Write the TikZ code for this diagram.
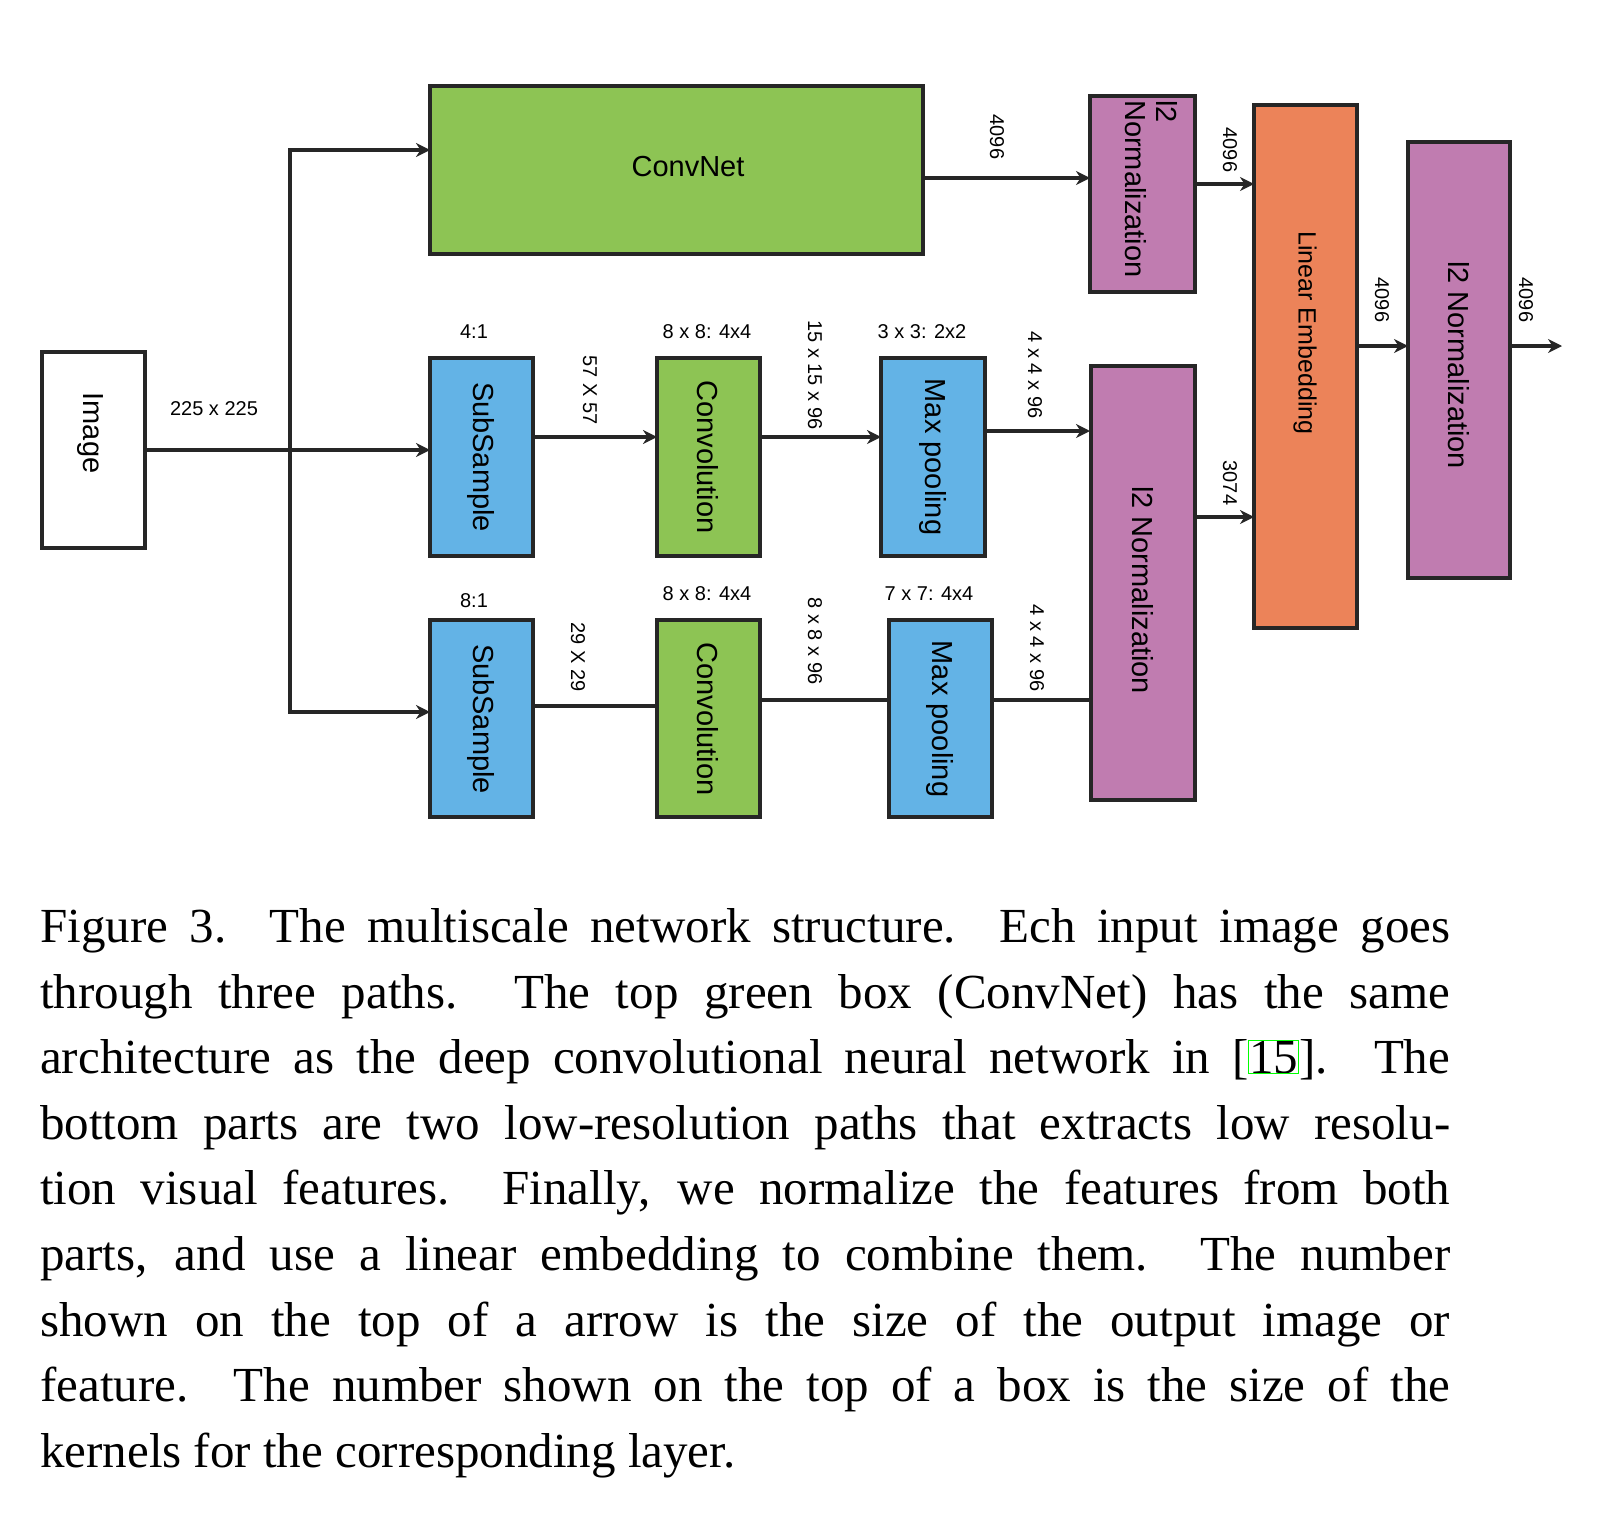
\documentclass[tikz,border=0pt]{standalone}
\usepackage{fontspec}
\setmainfont{Liberation Serif}
\newfontfamily\dsans{Liberation Sans}
\usetikzlibrary{arrows.meta}
\definecolor{cgreen}{HTML}{8DC454}
\definecolor{cblue}{HTML}{63B3E6}
\definecolor{cpurple}{HTML}{C07CB0}
\definecolor{corange}{HTML}{EC8359}
\begin{document}
\begin{tikzpicture}[x=1pt,y=-1pt,
  box/.style={draw=black!85,line width=4pt,inner sep=0pt},
  btxt/.style={font=\dsans\fontsize{29}{31}\selectfont,rotate=-90},
  lab/.style={font=\dsans\fontsize{20}{22}\selectfont},
  rlab/.style={font=\dsans\fontsize{20}{22}\selectfont,rotate=-90},
  ln/.style={line width=4pt,draw=black!85},
  arr/.style={ln,-{Stealth[length=14pt,width=14pt]}},
  captxt/.style={anchor=base west,inner sep=0pt,font=\fontsize{49}{65}\selectfont}]
\useasboundingbox (0,0) rectangle (1604,1539);
% boxes
\path[box,fill=white] (42,352) rectangle (145,548); \node[btxt] (img) at (90,433) {Image};
\coordinate (imgR) at (145,450);
\path[box,fill=cgreen] (430,86) rectangle (923,254); \node[font=\dsans\fontsize{29}{31}\selectfont] (cn) at (688,167) {ConvNet};
\path[box,fill=cpurple] (1090,96) rectangle (1195,292);
\node[btxt,anchor=north west,align=left,inner sep=0pt] (l2a) at (1178,100) {l2\\Normalization};
\path[box,fill=corange] (1254,105) rectangle (1357,628); \node[btxt,font=\dsans\fontsize{25}{27}\selectfont] (le) at (1305,333) {Linear Embedding};
\path[box,fill=cpurple] (1408,142) rectangle (1510,578); \node[btxt] (l2c) at (1459,365) {l2 Normalization};
\path[box,fill=cpurple] (1091,366) rectangle (1195,800); \node[btxt] (l2b) at (1143,590) {l2 Normalization};
\path[box,fill=cblue] (430,358) rectangle (533,556); \node[btxt] (s1) at (481,457) {SubSample};
\path[box,fill=cgreen] (657,358) rectangle (760,556); \node[btxt] (c1) at (708,457) {Convolution};
\path[box,fill=cblue] (881,358) rectangle (985,556); \node[btxt] (m1) at (933,457) {Max pooling};
\path[box,fill=cblue] (430,620) rectangle (533,817); \node[btxt] (s2) at (481,719) {SubSample};
\path[box,fill=cgreen] (657,620) rectangle (760,817); \node[btxt] (c2) at (708,719) {Convolution};
\path[box,fill=cblue] (889,620) rectangle (992,817); \node[btxt] (m2) at (940,719) {Max pooling};
% connectors
\coordinate (j) at (290,450);
\draw[ln] (imgR) -- (j);
\draw[ln] (290,150) -- (290,712);
\draw[arr] (288,150) -- (430,150);
\draw[arr] (j) -- (430,450);
\draw[arr] (288,712) -- (430,712);
\draw[arr] (533,437) -- (657,437);
\draw[arr] (760,437) -- (881,437);
\draw[arr] (985,431) -- (1090,431);
\draw[ln] (533,706) -- (657,706);
\draw[ln] (760,700) -- (889,700);
\draw[ln] (992,700) -- (1091,700);
\draw[arr] (923,178) -- (1090,178);
\draw[arr] (1195,184) -- (1254,184);
\draw[arr] (1195,517) -- (1254,517);
\draw[arr] (1357,346) -- (1408,346);
\draw[arr] (1510,346) -- (1562,346);
% labels
\node[lab] at (214,409) {225 x 225};
\node[lab] at (474,332) {4:1};
\node[lab] at (707,332) {8 x 8: 4x4};
\node[lab] at (922,332) {3 x 3: 2x2};
\node[lab] at (474,601) {8:1};
\node[lab] at (707,594) {8 x 8: 4x4};
\node[lab] at (929,594) {7 x 7: 4x4};
\node[rlab] at (590,390) {57 X 57};
\node[rlab] at (815,375) {15 x 15 x 96};
\node[rlab] at (1035,375) {4 x 4 x 96};
\node[rlab] at (578,657) {29 X 29};
\node[rlab] at (815,641) {8 x 8 x 96};
\node[rlab] at (1037,648) {4 x 4 x 96};
\node[rlab] at (997,137) {4096};
\node[rlab] at (1230,150) {4096};
\node[rlab] at (1230,483) {3074};
\node[rlab] at (1382,300) {4096};
\node[rlab] at (1526,300) {4096};
% caption
\node[captxt] at (40,942) {\makebox[1410pt][s]{Figure 3. The multiscale network structure. Ech input image goes}};
\node[captxt] at (40,1008) {\makebox[1410pt][s]{through three paths. The top green box (ConvNet) has the same}};
\node[captxt] at (40,1073) {\makebox[1410pt][s]{architecture as the deep convolutional neural network in [{\setlength\fboxsep{0pt}\setlength\fboxrule{1pt}\fcolorbox{green}{white}{15}}]. The}};
\node[captxt] at (40,1139) {\makebox[1410pt][s]{bottom parts are two low-resolution paths that extracts low resolu-}};
\node[captxt] at (40,1204) {\makebox[1410pt][s]{tion visual features. Finally, we normalize the features from both}};
\node[captxt] at (40,1270) {\makebox[1410pt][s]{parts, and use a linear embedding to combine them. The number}};
\node[captxt] at (40,1336) {\makebox[1410pt][s]{shown on the top of a arrow is the size of the output image or}};
\node[captxt] at (40,1401) {\makebox[1410pt][s]{feature. The number shown on the top of a box is the size of the}};
\node[captxt] at (40,1467) {kernels for the corresponding layer.};
\end{tikzpicture}
\end{document}
